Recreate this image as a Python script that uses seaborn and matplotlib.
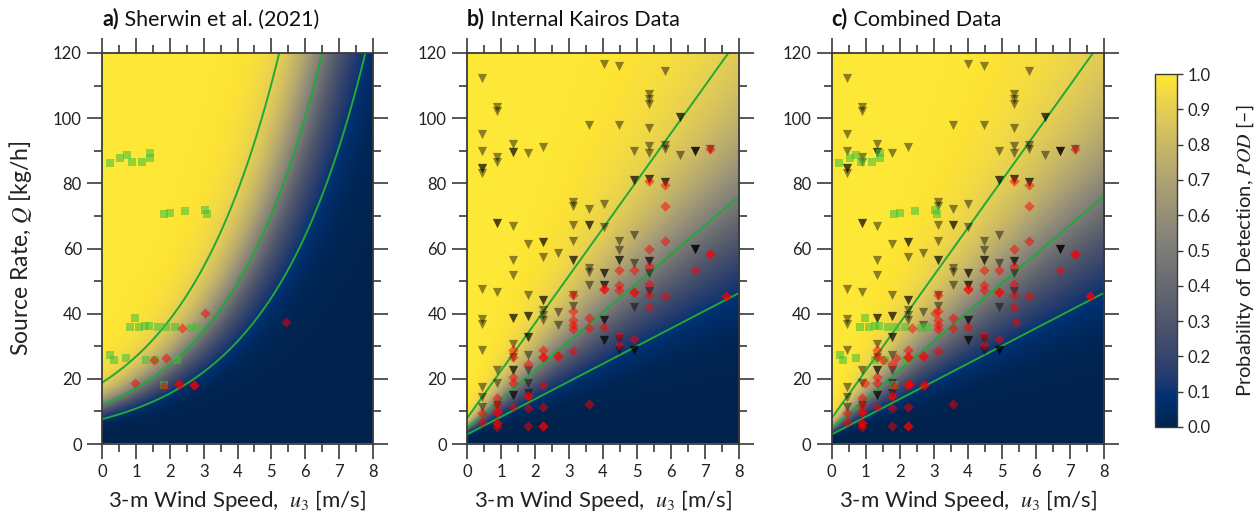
import numpy as np
import pandas as pd
import matplotlib
matplotlib.use("Agg")
import matplotlib.pyplot as plt
import seaborn as sns

sns.set_theme(style="white")
plt.rcParams['font.family'] = ['Lato', 'DejaVu Sans']
plt.rcParams['mathtext.fontset'] = 'stix'

# ---------------- data ----------------
# Panel a (Sherwin et al. 2021): detections (squares) and non-detections (diamonds)
a_det_u = [0.22, 0.53, 0.73, 0.87, 1.18, 1.41, 1.41, 1.84, 2.01, 2.46, 3.04, 3.09,
           0.24, 0.34, 0.71, 0.97, 0.83, 1.10, 1.27, 1.40, 1.29, 1.57, 1.66, 1.88,
           2.15, 2.20, 2.62, 2.79, 1.83]
a_det_Q = [86.2, 87.9, 88.8, 86.6, 86.6, 89.2, 87.9, 70.5, 70.9, 71.4, 71.8, 70.7,
           27.2, 25.7, 26.5, 38.8, 35.9, 35.9, 36.2, 36.2, 25.9, 25.7, 35.9, 35.9,
           35.9, 25.9, 35.7, 35.9, 18.2]
a_non_u = [0.97, 1.52, 1.89, 1.83, 2.27, 2.27, 2.71, 2.71, 2.37, 3.04, 5.43]
a_non_Q = [18.6, 25.7, 26.3, 17.8, 18.5, 18.5, 18.1, 18.1, 35.7, 40.3, 37.5]

# Panel b (internal Kairos data): detections (triangles) and non-detections (diamonds)
b_det_u = ([0.45] * 13 + [0.89] * 10 + [1.34] * 14 + [1.79] * 11 + [2.24] * 9 +
           [2.68] * 3 + [3.13] * 8 + [3.58] * 7 + [4.02] * 11 + [4.47] * 8 +
           [4.92] * 8 + [5.36] * 12 + [5.81] * 5 + [6.26] * 3 + [6.71] * 6 + [7.15] * 1)
b_det_Q = [112.2, 95.1, 90.0, 84.7, 84.7, 83.1, 47.7, 38.4, 36.9, 29.0, 17.5, 14.5, 11.4,
           103.3, 102.3, 88.2, 86.4, 67.7, 67.7, 46.6, 22.6, 18.6, 12.0,
           92.0, 89.5, 89.5, 66.8, 56.5, 52.0, 38.7, 38.7, 30.8, 26.7, 22.6, 22.6, 15.0, 15.0,
           89.2, 61.4, 45.8, 39.2, 39.2, 32.7, 32.7, 27.2, 22.6, 18.8, 15.8,
           91.0, 61.9, 61.9, 57.5, 44.3, 44.3, 41.0, 39.5, 38.0,
           58.6, 40.5, 36.4,
           74.2, 73.1, 67.3, 62.4, 56.5, 56.5, 42.5, 45.6,
           98.0, 72.1, 67.3, 67.3, 54.1, 52.8, 48.9,
           116.5, 73.7, 66.5, 52.4, 52.4, 48.9, 48.9, 38.2, 38.2, 32.0, 32.0,
           116.0, 98.0, 62.4, 59.6, 56.6, 56.6, 32.1, 28.8,
           90.0, 81.0, 81.0, 64.0, 55.5, 42.2, 28.8, 28.8,
           107.5, 106.0, 104.3, 96.9, 91.5, 89.2, 81.3, 81.3, 56.3, 56.3, 52.4, 47.1,
           114.5, 91.8, 90.5, 80.5, 80.5,
           100.4, 100.4, 88.8,
           90.0, 90.0, 90.0, 59.7, 59.7, 59.7,
           90.5]
b_non_u = ([0.45] * 2 + [0.89] * 7 + [1.34] * 5 + [1.79] * 5 + [2.24] * 7 + [2.68] * 2 +
           [3.13] * 6 + [3.58] * 3 + [4.02] * 3 + [4.47] * 5 + [4.92] * 4 + [5.36] * 6 +
           [5.81] * 4 + [6.71] * 1 + [7.15] * 3 + [7.60] * 2)
b_non_Q = [9.4, 6.9,
           14.0, 12.0, 9.7, 9.7, 6.5, 6.5, 5.3,
           29.0, 26.7, 20.6, 18.6, 11.4,
           24.7, 14.6, 14.6, 10.9, 5.5,
           28.8, 26.7, 26.7, 18.1, 11.4, 5.5, 5.5,
           27.0, 27.0,
           45.6, 40.8, 38.0, 36.4, 35.2, 28.5,
           38.7, 35.5, 12.2,
           47.7, 47.7, 35.8,
           53.3, 48.7, 47.4, 33.4, 30.5,
           53.5, 46.6, 46.6, 32.3,
           80.6, 60.0, 54.5, 49.2, 45.6, 42.2,
           79.5, 72.9, 62.2, 45.3,
           53.5,
           90.5, 58.4, 58.4,
           45.3, 45.3]

# POD model parameters (logistic)
a_rate, a_Q50, a_scale = 0.354, 12.0, 0.205          # Sherwin: ln Q - rate*u
b_u0, b_Q50, b_scale = 0.54, 8.9, 0.225              # Kairos: ln(Q/(u+u0))
contour_levels = [0.1, 0.5, 0.9]

panel_titles = [("a)", " Sherwin et al. (2021)"),
                ("b)", " Internal Kairos Data"),
                ("c)", " Combined Data")]

# ---------------- figure ----------------
fig = plt.figure(figsize=(12.6, 5.16), dpi=100)
ax_pos = [[0.081, 0.1395, 0.215, 0.7578],
          [0.3706, 0.1395, 0.216, 0.7578],
          [0.660, 0.1395, 0.216, 0.7578]]
axes = [fig.add_axes(p) for p in ax_pos]
cax = fig.add_axes([0.9167, 0.1725, 0.0175, 0.684])

cmap = plt.get_cmap('cividis')

uu = np.linspace(0, 8, 400)
qq = np.linspace(0.2, 120, 400)
U, Qg = np.meshgrid(uu, qq)
pod_a = 1.0 / (1.0 + np.exp(-(np.log(Qg) - a_rate * U - np.log(a_Q50)) / a_scale))
pod_b = 1.0 / (1.0 + np.exp(-(np.log(Qg / (U + b_u0)) - np.log(b_Q50)) / b_scale))
fields = [pod_a, pod_b, pod_b]

df_a_det = pd.DataFrame({'u': a_det_u, 'Q': a_det_Q})
df_a_non = pd.DataFrame({'u': a_non_u, 'Q': a_non_Q})
df_b_det = pd.DataFrame({'u': b_det_u, 'Q': b_det_Q})
df_b_non = pd.DataFrame({'u': b_non_u, 'Q': b_non_Q})

green = '#22a83a'
tri_kw = dict(marker='v', color='black', alpha=0.45, s=44, linewidth=0)
sq_kw = dict(marker='s', color='#3cc03a', alpha=0.55, s=30, linewidth=0)
di_kw = dict(marker='D', color='#ff0000', alpha=0.5, s=28, linewidth=0)

spine_col = '#3a3a3a'
txt_col = '#222222'
im = None
for i, ax in enumerate(axes):
    im = ax.imshow(fields[i], extent=[0, 8, 0.2, 120], origin='lower', aspect='auto',
                   cmap=cmap, vmin=0, vmax=1, interpolation='bilinear', zorder=0)
    ax.contour(U, Qg, fields[i], levels=contour_levels, colors=green, linewidths=1.4, zorder=1)
    if i in (1, 2):
        sns.scatterplot(data=df_b_det, x='u', y='Q', ax=ax, zorder=3, **tri_kw)
    if i in (0, 2):
        sns.scatterplot(data=df_a_det, x='u', y='Q', ax=ax, zorder=4, **sq_kw)
    if i in (1, 2):
        sns.scatterplot(data=df_b_non, x='u', y='Q', ax=ax, zorder=5, **di_kw)
    if i in (0, 2):
        sns.scatterplot(data=df_a_non, x='u', y='Q', ax=ax, zorder=5, **di_kw)

    ax.set_xlim(0, 8)
    ax.set_ylim(0, 120)
    ax.set_xticks(np.arange(0, 9, 1))
    ax.set_xticks(np.arange(0.5, 8, 1), minor=True)
    ax.set_yticks(np.arange(0, 121, 20))
    ax.set_yticks(np.arange(10, 120, 20), minor=True)
    ax.tick_params(which='both', direction='out', top=True, right=True, bottom=True, left=True,
                   labeltop=False, labelright=False, color=spine_col, width=1.2,
                   labelsize=12, labelcolor=txt_col)
    ax.tick_params(which='major', length=10.5, pad=4)
    ax.tick_params(which='minor', length=5.5)
    for sp in ax.spines.values():
        sp.set_color(spine_col)
        sp.set_linewidth(1.3)
        sp.set_visible(True)
    ax.set_xlabel("3-m Wind Speed,  $u_3$ [m/s]", fontsize=16, color=txt_col, labelpad=6)
    ax.set_ylabel("")
    t = ax.text(0.0, 1.07, panel_titles[i][0], transform=ax.transAxes, fontsize=15.5,
                fontweight='bold', ha='left', va='baseline', color='#111111')
    ax.annotate(panel_titles[i][1], xy=(1, 0), xycoords=t, fontsize=15.5,
                ha='left', va='bottom', color='#111111')
    ax.legend_ = None

axes[0].set_ylabel("Source Rate, $Q$ [kg/h]", fontsize=16.5, color=txt_col, labelpad=14)

cb = fig.colorbar(im, cax=cax)
cb.set_ticks(np.round(np.arange(0, 1.01, 0.1), 1))
cb.ax.tick_params(direction='out', length=4, width=1, color=spine_col, labelsize=12,
                  labelcolor=txt_col)
cb.outline.set_edgecolor(spine_col)
cb.outline.set_linewidth(1.0)
cb.set_label("Probability of Detection, $POD$ [\u2013]", fontsize=14.5, color=txt_col, labelpad=17)

fig.savefig("out.png", dpi=100)
